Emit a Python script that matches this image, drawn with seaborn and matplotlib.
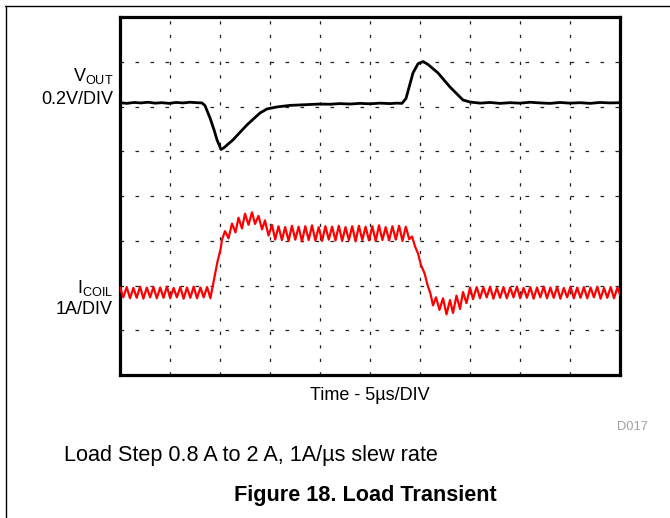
import numpy as np
import matplotlib
matplotlib.use("Agg")
import matplotlib.pyplot as plt
from matplotlib.lines import Line2D
import seaborn as sns

# ---- scope settings ----
TIME_PER_DIV_US = 5.0          # horizontal: 5 us / div, 10 divisions
N_XDIV, N_YDIV = 10, 8
VOUT_MV_PER_DIV = 200.0        # 0.2 V / div
VOUT_ZERO_DIV = 6.08           # screen position of the Vout trace reference
COIL_A_PER_DIV = 1.0           # 1 A / div
COIL_ZERO_DIV = 1.055          # screen position of 0 A for the coil trace

# ---- Vout (AC coupled deviation, mV) ----
vout_t_us = [0.0, 0.7, 1.4, 2.1, 2.8, 3.5, 4.2, 4.9, 5.6, 6.3, 7.0, 7.7,
             8.2, 8.5, 9.0, 9.4, 9.7, 10.1, 10.4, 11.3, 12.7, 14.0, 14.7,
             15.7, 17.0, 18.0, 19.0, 20.0, 21.0, 22.0, 23.0, 24.0, 25.0,
             26.0, 27.0, 27.7, 28.2, 28.6, 29.3, 29.8, 30.3, 30.8, 31.8,
             33.0, 34.3, 35.0, 36.0, 37.0, 38.0, 39.0, 40.0, 41.0, 42.0,
             43.0, 44.0, 45.0, 46.0, 47.0, 48.0, 49.0, 50.0]
vout_mv = [1, -2, 2, 0, 3, -1, 1, -2, 2, 0, 3, 1,
           0, -12, -67, -120, -165, -208, -200, -165, -98, -45, -27,
           -18, -11, -9, -7, -5, -6, -3, -5, -2, -4,
           -1, -3, -1, -2, 20, 134, 175, 185, 172, 134,
           71, 13, 4, -1, 2, -2, 1, -1, 3, 0,
           -2, 2, -1, 1, -2, 2, 0, 1]

# ---- Coil current (A), vertices of the ripple waveform ----
coil_low1_t = [0.00, 0.33, 0.67, 1.00, 1.34, 1.67, 2.01, 2.34, 2.68, 3.01,
               3.35, 3.68, 4.02, 4.35, 4.69, 5.02, 5.36, 5.69, 6.03, 6.36,
               6.70, 7.03, 7.37, 7.70, 8.04, 8.37, 8.71, 9.04]
coil_low1_a = [0.90, 0.68, 0.91, 0.66, 0.89, 0.67, 0.92, 0.65, 0.90, 0.68,
               0.91, 0.66, 0.90, 0.67, 0.92, 0.66, 0.89, 0.68, 0.91, 0.65,
               0.90, 0.67, 0.92, 0.66, 0.90, 0.68, 0.91, 0.66]
coil_rise_t = [9.40, 9.75, 10.05, 10.20]
coil_rise_a = [1.08, 1.48, 1.75, 1.97]
coil_over_t = [10.50, 10.85, 11.20, 11.55, 11.85, 12.20, 12.50, 12.85,
               13.20, 13.50, 13.85, 14.20, 14.50, 14.85, 15.20, 15.52]
coil_over_a = [2.16, 2.00, 2.33, 2.13, 2.46, 2.22, 2.55, 2.30,
               2.58, 2.32, 2.50, 2.20, 2.40, 2.06, 2.30, 1.97]
coil_high_t = [15.85, 16.19, 16.52, 16.86, 17.19, 17.53, 17.86, 18.20,
               18.53, 18.87, 19.20, 19.54, 19.87, 20.21, 20.54, 20.88,
               21.21, 21.55, 21.88, 22.22, 22.55, 22.89, 23.22, 23.56,
               23.89, 24.23, 24.56, 24.90, 25.23, 25.57, 25.90, 26.24,
               26.57, 26.91, 27.24, 27.58, 27.91, 28.25, 28.58, 28.92]
coil_high_a = [2.27, 1.96, 2.25, 1.94, 2.28, 1.97, 2.26, 1.93,
               2.27, 1.96, 2.29, 1.95, 2.25, 1.94, 2.27, 1.97,
               2.26, 1.95, 2.28, 1.94, 2.25, 1.96, 2.27, 1.93,
               2.28, 1.96, 2.26, 1.95, 2.27, 1.94, 2.29, 1.96,
               2.25, 1.95, 2.27, 1.97, 2.28, 1.94, 2.26, 1.98]
coil_fall_t = [29.20, 29.50, 29.80, 30.10, 30.45, 30.75, 31.05, 31.30]
coil_fall_a = [2.04, 1.82, 1.66, 1.40, 1.22, 0.96, 0.76, 0.50]
coil_under_t = [31.60, 31.95, 32.30, 32.65, 33.00, 33.30, 33.65, 34.00,
                34.30, 34.65, 35.00, 35.30]
coil_under_a = [0.68, 0.40, 0.66, 0.30, 0.62, 0.33, 0.72, 0.42,
                0.80, 0.55, 0.90, 0.64]
coil_low2_t = [35.67, 36.00, 36.34, 36.67, 37.01, 37.34, 37.68, 38.01,
               38.35, 38.68, 39.02, 39.35, 39.69, 40.02, 40.36, 40.69,
               41.03, 41.36, 41.70, 42.03, 42.37, 42.70, 43.04, 43.37,
               43.71, 44.04, 44.38, 44.71, 45.05, 45.38, 45.72, 46.05,
               46.39, 46.72, 47.06, 47.39, 47.73, 48.06, 48.40, 48.73,
               49.07, 49.40, 49.74, 50.00]
coil_low2_a = [0.91, 0.66, 0.90, 0.68, 0.92, 0.65, 0.89, 0.67,
               0.91, 0.66, 0.90, 0.68, 0.92, 0.66, 0.89, 0.67,
               0.91, 0.65, 0.90, 0.68, 0.92, 0.66, 0.90, 0.67,
               0.91, 0.65, 0.89, 0.68, 0.92, 0.66, 0.90, 0.67,
               0.91, 0.66, 0.90, 0.68, 0.92, 0.65, 0.89, 0.67,
               0.91, 0.66, 0.90, 0.74]

coil_t_us = (coil_low1_t + coil_rise_t + coil_over_t + coil_high_t
             + coil_fall_t + coil_under_t + coil_low2_t)
coil_a = (coil_low1_a + coil_rise_a + coil_over_a + coil_high_a
          + coil_fall_a + coil_under_a + coil_low2_a)

# ---- text ----
vout_label = r"V$_{\mathregular{OUT}}$"
vout_scale = "0.2V/DIV"
coil_label = r"I$_{\mathregular{COIL}}$"
coil_scale = "1A/DIV"
time_label = "Time - 5µs/DIV"
fig_code = "D017"
condition_text = "Load Step 0.8 A to 2 A, 1A/µs slew rate"
caption = "Figure 18. Load Transient"

sns.set_style("white")
plt.rcParams["font.family"] = ["Liberation Sans", "DejaVu Sans"]
plt.rcParams["mathtext.default"] = "regular"
plt.rcParams["text.color"] = "black"

W, H = 670, 518
fig = plt.figure(figsize=(W / 100, H / 100), dpi=100)
ax = fig.add_axes([120 / W, (H - 375) / H, 500 / W, 358 / H])

# traces in screen divisions
vout_div = VOUT_ZERO_DIV + np.array(vout_mv) / VOUT_MV_PER_DIV
coil_div = COIL_ZERO_DIV + np.array(coil_a) / COIL_A_PER_DIV

# graticule
for k in range(1, N_XDIV):
    ax.axvline(k * TIME_PER_DIV_US, color="#222222", lw=0.9,
               linestyle=(0, (2.6, 8.2)), zorder=1)
for k in range(1, N_YDIV):
    ax.axhline(k, color="#222222", lw=0.9,
               linestyle=(0, (2.9, 9.1)), zorder=1)

sns.lineplot(x=vout_t_us, y=vout_div, ax=ax, color="black", lw=2.0,
             sort=False, estimator=None, zorder=3)
sns.lineplot(x=coil_t_us, y=coil_div, ax=ax, color="#ff0000", lw=1.6,
             sort=False, estimator=None, zorder=3)

ax.set_xlim(0, N_XDIV * TIME_PER_DIV_US)
ax.set_ylim(0, N_YDIV)
ax.set_xticks([])
ax.set_yticks([])
ax.set_xlabel("")
ax.set_ylabel("")
for s in ax.spines.values():
    s.set_visible(True)
    s.set_color("black")
    s.set_linewidth(2.3)

def fx(px):
    return px / W

def fy(py):
    return 1 - py / H

# channel labels
fig.text(fx(113), fy(76), vout_label, ha="right", va="center", fontsize=13)
fig.text(fx(113), fy(99), vout_scale, ha="right", va="center", fontsize=13)
fig.text(fx(113), fy(288), coil_label, ha="right", va="center", fontsize=13)
fig.text(fx(113), fy(309), coil_scale, ha="right", va="center", fontsize=13)

fig.text(fx(370), fy(395), time_label, ha="center", va="center", fontsize=13)
fig.text(fx(648), fy(427), fig_code, ha="right", va="center", fontsize=9.3,
         color="#a0a0a0")
fig.text(fx(64), fy(456), condition_text, ha="left", va="center",
         fontsize=15.6)
fig.text(fx(365), fy(495), caption, ha="center", va="center", fontsize=15.6,
         fontweight="bold")

# page frame lines
fig.add_artist(Line2D([fx(5), 1], [fy(5.5), fy(5.5)], color="black", lw=1.0))
fig.add_artist(Line2D([fx(5.5), fx(5.5)], [0, fy(5.5)], color="black", lw=1.0))

fig.savefig("out.png", dpi=100)
